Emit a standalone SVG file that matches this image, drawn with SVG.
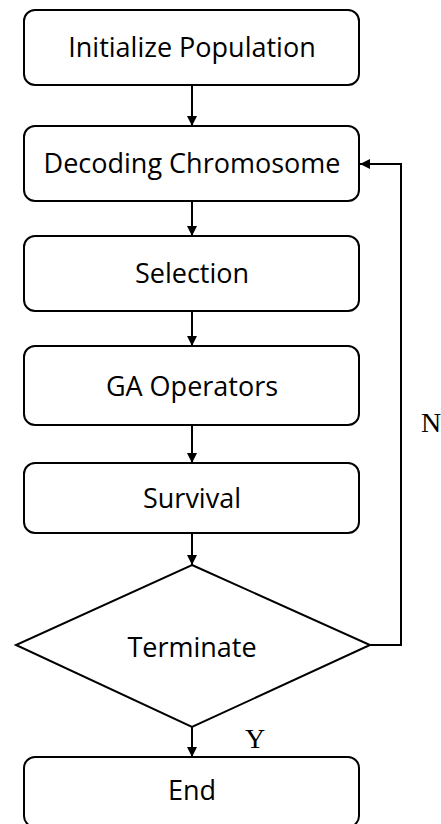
<svg xmlns="http://www.w3.org/2000/svg" width="441" height="824" viewBox="0 0 441 824">
<style>
.box{fill:#fff;stroke:#000;stroke-width:2}
.t{font-family:"Open Sans","Liberation Sans",sans-serif;font-size:27px;text-anchor:middle;fill:#000}
.l{font-family:"Liberation Serif",serif;font-size:28px;fill:#000}
.c{fill:none;stroke:#000;stroke-width:2}
</style>
<defs>
<marker id="ah" viewBox="0 0 10 10" refX="10" refY="5" markerWidth="5" markerHeight="5" orient="auto" markerUnits="strokeWidth">
<path d="M0,0 L10,5 L0,10 z" fill="#000"/>
</marker>
</defs>
<g id="connectors">
<line class="c" x1="192" y1="85" x2="192" y2="126" marker-end="url(#ah)"/>
<line class="c" x1="192" y1="201" x2="192" y2="236" marker-end="url(#ah)"/>
<line class="c" x1="192" y1="311" x2="192" y2="346" marker-end="url(#ah)"/>
<line class="c" x1="192" y1="425" x2="192" y2="463" marker-end="url(#ah)"/>
<line class="c" x1="192" y1="533" x2="192" y2="565" marker-end="url(#ah)"/>
<line class="c" x1="192" y1="727" x2="192" y2="757" marker-end="url(#ah)"/>
<polyline class="c" points="370,645 401,645 401,164 360,164" marker-end="url(#ah)"/>
<text class="l" x="421" y="432">N</text>
<text class="l" x="245" y="748">Y</text>
</g>
<g id="init"><rect class="box" x="24" y="10" width="335" height="75" rx="11"/><text class="t" x="192" y="57">Initialize Population</text></g>
<g id="decode"><rect class="box" x="24" y="126" width="335" height="75" rx="11"/><text class="t" x="192" y="173">Decoding Chromosome</text></g>
<g id="selection"><rect class="box" x="24" y="236" width="335" height="75" rx="11"/><text class="t" x="192" y="283">Selection</text></g>
<g id="ga"><rect class="box" x="24" y="346" width="335" height="79" rx="11"/><text class="t" x="192" y="396">GA Operators</text></g>
<g id="survival"><rect class="box" x="24" y="463" width="335" height="70" rx="11"/><text class="t" x="192" y="508">Survival</text></g>
<g id="terminate"><polygon class="box" points="192,565 370,645 192,727 16,645"/><text class="t" x="192" y="657">Terminate</text></g>
<g id="end"><rect class="box" x="24" y="757" width="335" height="70" rx="11"/><text class="t" x="192" y="800">End</text></g>
</svg>
